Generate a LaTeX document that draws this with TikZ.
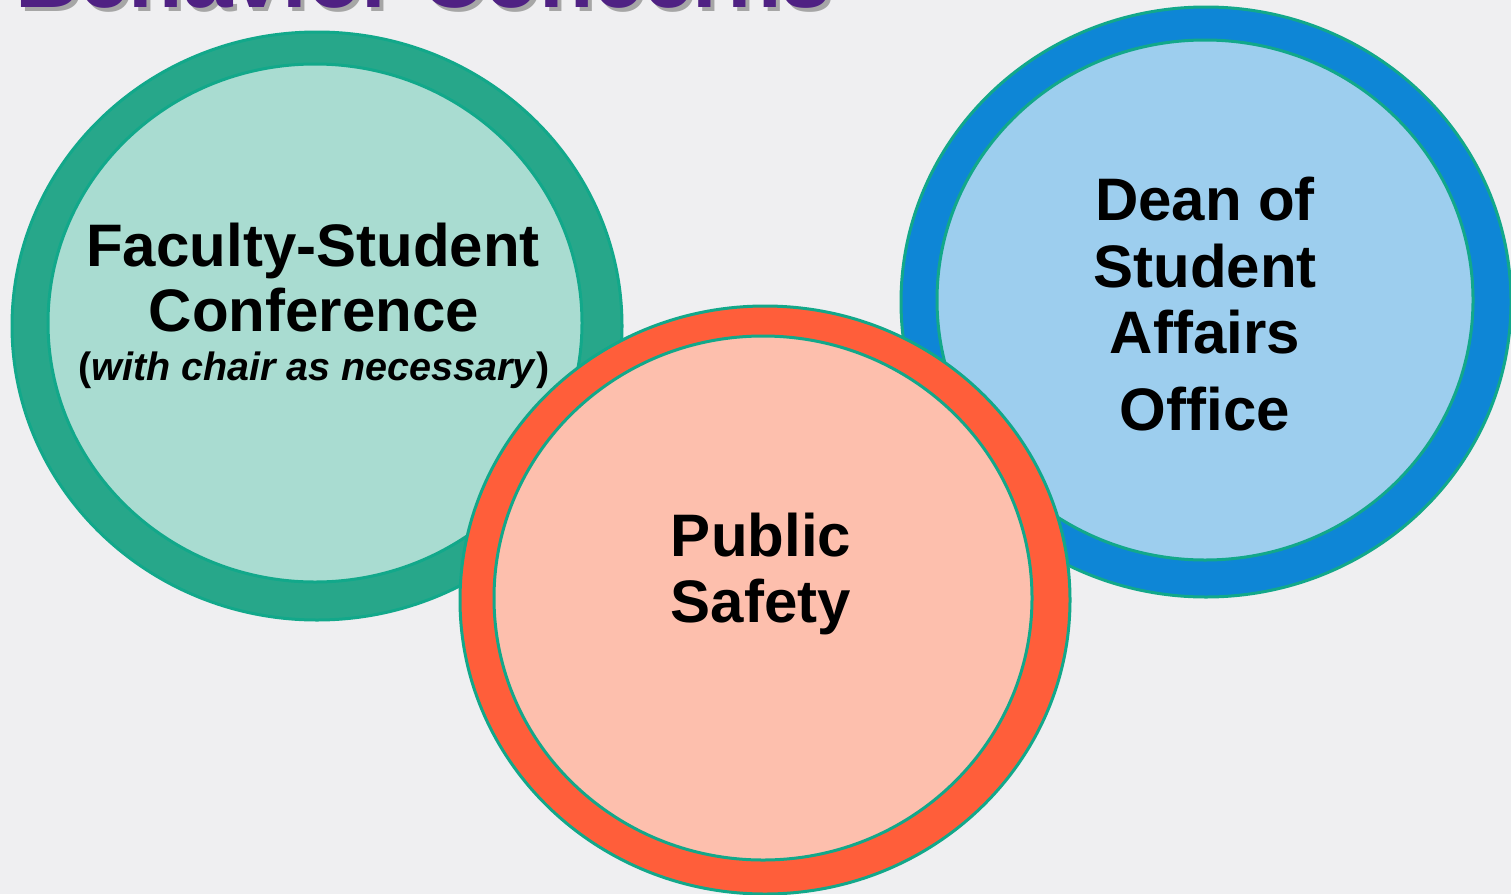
\documentclass[tikz,border=0pt]{standalone}
\usepackage{fontspec}
\setmainfont{Liberation Sans}
\usetikzlibrary{shapes.geometric}
\definecolor{bgc}{HTML}{EFEFF1}
\definecolor{tealline}{HTML}{12A88A}
\definecolor{greenring}{HTML}{27A78A}
\definecolor{greenfill}{HTML}{A9DCD1}
\definecolor{bluering}{HTML}{0E86D6}
\definecolor{bluefill}{HTML}{9DCEEE}
\definecolor{redring}{HTML}{FF5E3A}
\definecolor{redfill}{HTML}{FDBFAD}
\definecolor{titlepurple}{HTML}{4F2183}
\tikzset{
  ring/.style={ellipse, inner sep=0pt, draw=tealline, line width=3pt},
  lbl/.style={anchor=base, inner sep=0pt, font=\fontsize{60}{60}\selectfont\bfseries},
  sublbl/.style={anchor=base, inner sep=0pt, font=\fontsize{39.5}{40}\selectfont\bfseries},
  titlestyle/.style={anchor=base west, inner sep=0pt, font=\fontsize{89}{89}\selectfont\bfseries}
}
\begin{document}
\begin{tikzpicture}[x=1pt,y=-1pt]
\useasboundingbox (0,0) rectangle (1511,894);
\clip (0,0) rectangle (1511,894);
\fill[bgc] (0,0) rectangle (1511,894);
% title (cut off at top)
\node[titlestyle, text=black!35] (titleshadow) at (19,11) {Behavior Concerns};
\node[titlestyle, text=titlepurple] (title) at (15,7) {Behavior Concerns};
% left circle
\node[ring, fill=greenring, minimum width=610pt, minimum height=588pt] (fsouter) at (317,326) {};
\node[ring, fill=greenfill, minimum width=534pt, minimum height=518pt] (fsinner) at (315,323) {};
% right circle
\node[ring, fill=bluering, minimum width=610pt, minimum height=590pt] (dnouter) at (1206,302) {};
\node[ring, fill=bluefill, minimum width=536pt, minimum height=520pt] (dninner) at (1205,300) {};
% bottom circle
\node[ring, fill=redring, minimum width=610pt, minimum height=588pt] (psouter) at (765,600) {};
\node[ring, fill=redfill, minimum width=538pt, minimum height=524pt] (psinner) at (763,598) {};
% texts
\node[lbl] (fs1) at (313,266) {Faculty-Student};
\node[lbl] (fs2) at (314,331) {Conference};
\node[sublbl] (fs3) at (314,380) {(\textit{with chair as necessary})};
\node[lbl] (dn1) at (1205,220) {Dean of};
\node[lbl] (dn2) at (1205,287) {Student};
\node[lbl] (dn3) at (1205,353) {Affairs};
\node[lbl] (dn4) at (1205,430) {Office};
\node[lbl] (ps1) at (761,556) {Public};
\node[lbl] (ps2) at (761,622) {Safety};
\end{tikzpicture}
\end{document}
